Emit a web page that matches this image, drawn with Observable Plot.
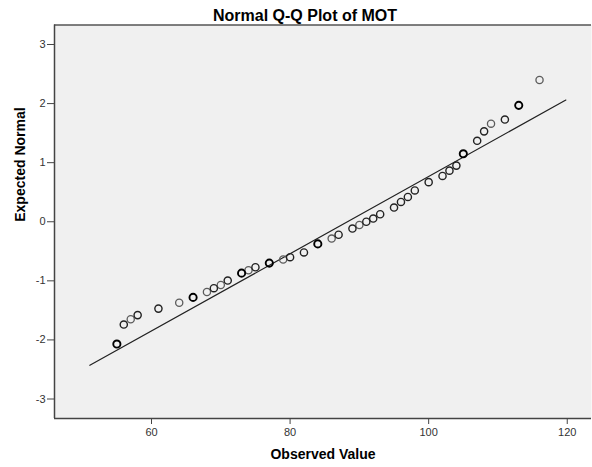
<!DOCTYPE html>
<html>
<head>
<meta charset="utf-8">
<script src="https://cdn.jsdelivr.net/npm/d3@7"></script>
<script src="https://cdn.jsdelivr.net/npm/@observablehq/plot@0.6"></script>
<style>
  html, body { margin: 0; padding: 0; background: #fff; }
  svg { font-family: "Liberation Sans", Arial, sans-serif; }
</style>
</head>
<body>
<div id="chart"></div>
<script>
const observed = [55,56,57,58,61,64,66,68,69,70,71,73,74,75,77,79,80,82,84,86,87,89,90,91,92,93,95,96,97,98,100,102,103,104,105,107,108,109,111,113,116];
const expectedNormal = [-2.07,-1.74,-1.65,-1.58,-1.47,-1.37,-1.28,-1.19,-1.125,-1.07,-0.995,-0.87,-0.82,-0.77,-0.70,-0.64,-0.60,-0.52,-0.375,-0.285,-0.22,-0.115,-0.054,0.0,0.054,0.127,0.24,0.335,0.42,0.53,0.67,0.775,0.865,0.95,1.15,1.37,1.53,1.66,1.73,1.97,2.40];
// estimated overlap (darkness of circle): 1 = single, 2 = few, 3 = many
const overlap = [3,2,1,2,2,1,3,1,2,1,2,3,1,2,3,1,2,2,3,1,2,2,1,2,2,2,2,2,2,2,2,2,2,2,3,2,2,1,2,3,1];

// Reference line endpoints
const lineObserved = [51.1, 119.8];
const lineExpected = [-2.43, 2.06];

const xTicks = [60, 80, 100, 120];
const yTicks = [-3, -2, -1, 0, 1, 2, 3];
const xDomain = [46, 123.5];
const yDomain = [-3.33, 3.33];

const title = "Normal Q-Q Plot of MOT";
const xLabel = "Observed Value";
const yLabel = "Expected Normal";

const points = observed.map((x, i) => ({x, y: expectedNormal[i], n: overlap[i]}));
const fitLine = lineObserved.map((x, i) => ({x, y: lineExpected[i]}));

const plot = Plot.plot({
  width: 592,
  height: 467,
  marginLeft: 54,
  marginRight: 1,
  marginTop: 24.5,
  marginBottom: 49,
  style: {fontFamily: "Liberation Sans, Arial, sans-serif", fontSize: "11px", color: "#333", background: "#fff"},
  x: {domain: xDomain},
  y: {domain: yDomain},
  marks: [
    Plot.frame({fill: "#f0f0f0", stroke: "none"}),
    Plot.ruleY([yDomain[1]], {stroke: "#555", strokeWidth: 1.5}),
    Plot.ruleX([xDomain[0]], {stroke: "#444", strokeWidth: 1.5}),
    Plot.ruleY([yDomain[0]], {stroke: "#444", strokeWidth: 1.5}),
    Plot.axisY({ticks: yTicks, tickSize: 7, tickPadding: 2, tickFormat: d => String(d), label: null, stroke: "#444", fill: "#333"}),
    Plot.axisX({ticks: xTicks, tickSize: 6, tickPadding: 4, tickFormat: d => String(d), label: null, stroke: "#444", fill: "#333"}),
    Plot.line(fitLine, {x: "x", y: "y", stroke: "#222", strokeWidth: 1.2}),
    Plot.dot(points.filter(d => d.n === 1), {x: "x", y: "y", r: 3.6, stroke: "#5c5c5c", strokeWidth: 1.3}),
    Plot.dot(points.filter(d => d.n === 2), {x: "x", y: "y", r: 3.6, stroke: "#222", strokeWidth: 1.4}),
    Plot.dot(points.filter(d => d.n === 3), {x: "x", y: "y", r: 3.6, stroke: "#000", strokeWidth: 1.9}),
    Plot.text([title], {frameAnchor: "top", dx: -18, dy: -4, lineAnchor: "bottom", fontSize: 16, fontWeight: "bold", fill: "#000"}),
    Plot.text([xLabel], {frameAnchor: "bottom", dy: 36, lineAnchor: "middle", fontSize: 14, fontWeight: "bold", fill: "#000"}),
    Plot.text([yLabel], {frameAnchor: "left", dx: -34, rotate: -90, lineAnchor: "middle", fontSize: 14, fontWeight: "bold", fill: "#000"})
  ]
});
document.getElementById("chart").appendChild(plot);
</script>
</body>
</html>
